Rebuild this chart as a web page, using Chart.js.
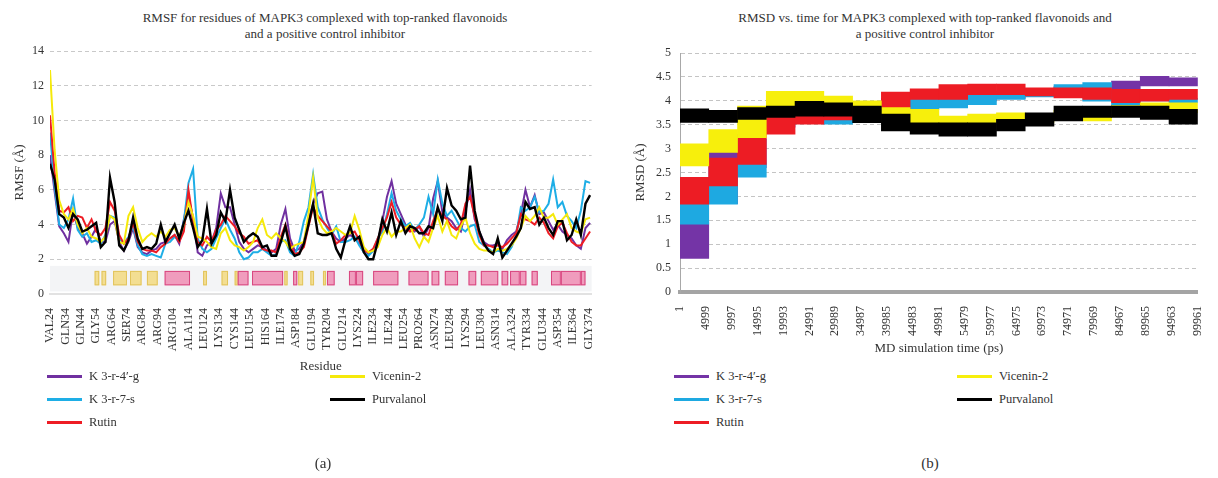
<!DOCTYPE html>
<html>
<head>
<meta charset="utf-8">
<script src="https://cdn.jsdelivr.net/npm/chart.js@4.4.0/dist/chart.umd.min.js"></script>
<style>
body { margin:0; background:#fff; width:1218px; height:478px; position:relative; overflow:hidden; font-family:"Liberation Serif", serif; color:#333; }
.wrap { position:absolute; top:0; width:609px; }
.ttl { position:absolute; font-size:13px; line-height:16px; text-align:center; white-space:nowrap; transform:translateX(-50%); }
.leg { position:absolute; font-size:12.5px; line-height:16px; white-space:nowrap; }
.leg i { position:absolute; left:0; top:7px; width:35px; height:3px; }
.leg b { font-weight:normal; position:absolute; top:0; }
.cap { position:absolute; top:455px; font-size:15px; transform:translateX(-50%); }
</style>
</head>
<body>
<div class="ttl" style="left:325px;top:10px">RMSF for residues of MAPK3 complexed with top-ranked flavonoids<br>and a positive control inhibitor</div>
<div class="ttl" style="left:925px;top:10px">RMSD vs. time for MAPK3 complexed with top-ranked flavonoids and<br>a positive control inhibitor</div>
<div class="wrap" style="left:0"><canvas id="rmsf" width="609" height="378"></canvas></div>
<div class="wrap" style="left:609px"><canvas id="rmsd" width="609" height="360"></canvas></div>
<div id="legends"></div>
<div class="cap" style="left:323px">(a)</div>
<div class="cap" style="left:930px">(b)</div>
<script>
// series names and colours (same order as in the source chart)
const names = ["K 3-r-4\u2032-g", "K 3-r-7-s", "Rutin", "Vicenin-2", "Purvalanol"];
const colors = ["#7030a0", "#1eaee6", "#ee1c24", "#f5e90a", "#000000"];

// ---- RMSF (a) ----
const residues = [24,27,30,33,36,39,42,45,48,51,54,57,60,63,66,69,72,75,78,81,84,87,90,93,96,99,102,105,108,111,114,117,120,123,126,129,132,135,138,141,144,147,150,153,156,159,162,165,168,171,174,177,180,183,186,189,192,195,198,201,204,207,210,213,216,219,222,225,228,231,234,237,240,243,246,249,252,255,258,261,264,267,270,273,276,279,282,285,288,291,294,297,300,303,306,309,312,315,318,321,324,327,330,333,336,339,342,345,348,351,354,357,360,363,366,369,372,375];

const rmsfK4g = [8.0,5.9,3.9,3.5,3.0,4.8,3.8,3.5,2.9,3.3,3.8,3.0,3.0,4.0,4.2,3.0,2.5,3.0,3.8,2.7,2.4,2.3,2.5,2.6,2.9,3.0,3.2,3.4,2.9,4.3,5.6,4.4,2.4,2.2,2.8,3.0,3.8,5.8,5.0,
  5.0,4.0,3.0,2.6,2.4,2.6,2.8,2.7,2.5,2.4,2.6,4.0,4.9,3.2,2.5,2.6,3.0,4.2,5.2,5.8,5.9,4.3,3.6,3.2,3.0,3.2,3.4,3.2,2.9,2.4,2.3,2.5,3.0,4.2,5.6,6.5,5.2,4.6,4.0,3.7,
  3.6,3.9,3.3,3.8,5.5,6.5,4.7,4.4,4.2,3.8,3.6,4.8,6.0,4.3,3.6,3.0,2.8,2.8,2.9,2.6,3.1,3.4,3.6,4.6,6.0,5.0,5.7,4.6,4.7,4.2,3.7,4.0,3.6,3.4,3.2,2.8,2.6,3.8,4.1];
const rmsfK7s = [9.3,6.2,4.0,3.8,4.3,5.5,3.7,3.3,3.5,3.0,3.1,2.9,3.4,4.5,4.4,3.2,2.9,3.3,3.9,2.8,2.3,2.2,2.3,2.2,2.1,2.9,3.0,3.3,3.1,4.2,6.4,7.2,3.2,2.6,2.4,2.6,3.2,3.8,4.3,
  3.7,3.2,2.4,2.0,2.1,2.4,2.4,2.6,2.4,2.2,2.3,3.0,3.1,2.4,2.2,3.0,4.2,5.0,6.9,5.0,4.3,3.8,3.4,3.9,3.0,3.0,3.1,3.3,2.8,2.4,2.2,2.5,3.2,3.6,4.6,5.8,4.8,4.3,3.9,4.1,
  3.7,4.0,4.4,5.6,4.6,6.6,5.2,4.5,4.8,4.3,3.8,3.6,3.9,4.0,3.0,2.8,2.6,2.4,2.5,2.4,2.3,2.7,3.4,5.0,4.8,5.0,5.6,4.7,4.8,5.2,6.6,5.0,5.3,4.5,4.2,3.8,4.8,6.5,6.4];
const rmsfRutin = [10.3,7.0,4.8,4.7,5.0,4.2,4.5,4.4,3.8,4.3,3.6,3.4,3.8,5.3,4.8,3.4,2.9,3.2,4.1,3.0,2.6,2.5,2.5,2.4,2.7,2.9,3.2,3.4,3.0,3.6,6.0,4.2,3.0,2.8,3.3,3.0,3.7,4.0,4.5,
  4.2,3.9,3.5,3.3,2.9,3.0,3.1,2.6,2.5,2.5,2.4,3.3,4.0,2.9,2.3,2.4,2.7,3.9,5.0,4.5,4.2,3.9,3.6,2.9,3.1,3.4,3.5,3.6,3.1,2.5,2.4,2.6,3.2,3.8,4.4,5.3,4.4,4.0,3.8,3.6,
  3.7,3.9,3.5,3.4,4.2,4.9,4.5,4.3,3.9,3.7,4.0,5.2,5.6,4.5,3.4,2.8,2.8,2.7,2.8,2.7,2.9,3.2,3.5,4.6,4.3,4.2,4.0,4.4,4.1,3.5,3.2,3.9,4.1,3.5,3.0,2.8,2.8,3.2,3.6];
const rmsfVicenin = [12.9,8.3,5.4,4.6,4.3,4.9,4.0,3.5,3.8,3.3,3.2,3.0,3.3,4.5,4.3,3.0,2.9,4.5,5.0,3.8,3.0,3.3,3.5,3.3,3.6,3.3,3.7,3.8,3.3,4.0,5.3,4.5,3.3,3.2,3.0,2.7,2.6,3.5,3.8,
  3.1,2.8,2.7,2.5,2.7,3.0,3.8,4.3,3.4,3.2,3.5,3.2,3.0,2.6,2.8,2.9,3.0,4.6,6.7,4.4,3.8,3.5,3.6,3.8,3.6,3.4,3.5,4.5,3.7,2.7,2.4,2.5,2.7,3.4,3.8,3.3,3.6,3.6,3.8,4.0,
  3.2,2.7,3.3,3.0,3.8,4.5,3.6,4.2,3.4,3.2,3.9,4.4,3.5,2.9,2.6,2.5,2.5,2.4,2.6,2.5,2.6,2.8,3.2,3.8,4.5,4.2,4.5,5.0,4.4,4.4,4.6,4.0,4.3,4.6,3.8,3.6,3.5,4.3,4.4];
const rmsfPurvalanol = [7.5,6.6,4.6,4.4,3.8,4.6,4.3,3.6,3.7,3.9,4.1,2.7,3.0,6.7,5.3,2.8,2.5,3.1,4.4,3.2,2.6,2.7,2.6,2.9,4.0,3.0,3.5,4.0,3.2,4.1,4.8,3.8,2.7,3.1,4.9,2.9,3.4,4.7,4.2,
  6.0,4.4,3.7,3.0,3.3,3.5,3.3,2.7,2.8,2.2,2.2,3.0,3.9,2.6,2.2,2.3,2.9,4.0,5.2,3.5,3.4,3.4,3.5,2.6,2.1,3.1,3.9,3.1,3.3,2.4,2.0,2.0,3.0,4.3,3.6,4.7,3.4,4.2,3.5,3.9,
  3.8,3.5,3.5,3.9,3.8,5.0,4.2,6.1,5.1,4.8,4.3,4.4,7.4,4.8,3.6,2.9,2.5,2.3,3.2,2.1,2.5,2.9,3.3,3.8,5.3,4.9,5.0,4.0,4.4,3.8,3.4,4.2,4.2,3.1,3.4,4.3,3.4,5.2,5.7];

const resTicks = [24,34,44,54,64,74,84,94,104,114,124,134,144,154,164,174,184,194,204,214,224,234,244,254,264,274,284,294,304,314,324,334,344,354,364,374];
const resTickLabels = ["VAL24","GLN34","GLN44","GLY54","ARG64","SER74","ARG84","ARG94","ARG104","ALA114","LEU124","LYS134","CYS144","LEU154","HIS164","ILE174","ASP184","GLU194","TYR204","GLU214","LYS224","ILE234","ILE244","LEU254","PRO264","ASN274","LEU284","LYS294","LEU304","ASN314","ALA324","TYR334","GLU344","ASP354","ILE364","GLY374"];

// secondary structure (residue ranges)
const strands = [[53,56],[57.5,60.5],[65,74],[76,83.5],[87,94],[123.5,126],[135.5,139.7],[144,146],[176.3,178.4],[185.3,188.5],[193.2,195.6],[201.4,203.3]];
const helices = [[98.5,115],[146,153],[155.3,175.5],[182,184.7],[204,209],[218.3,222.8],[222.8,227.5],[234,250.4],[257,270],[272,277],[280.6,289.2],[296,301],[304,315.3],[317.5,321.8],[323,329.3],[329.3,333.6],[337,341],[349.6,356],[356,369],[369,372]];

// ---- RMSD (b) ---- blocks of the run, low/high of each band
const blockMid = [2778,8333,13889,19444,25000,30556,36111,41667,47222,52778,58333,63889,69444,75000,80556,86111,91667,97222];
const rmsdK4gLo = [0.70,1.85,2.60,3.45,3.55,3.60,3.70,3.85,3.90,3.95,4.00,4.05,4.10,4.15,4.15,4.24,4.31,4.31];
const rmsdK4gHi = [1.45,2.95,3.20,3.70,3.75,3.75,3.90,4.05,4.10,4.15,4.20,4.20,4.25,4.30,4.30,4.41,4.51,4.48];
const rmsdK7sLo = [1.42,1.84,2.40,3.50,3.55,3.51,3.80,3.85,3.82,3.85,3.92,4.03,4.08,4.20,3.99,3.89,4.00,3.96];
const rmsdK7sHi = [1.86,2.28,2.70,3.72,3.75,3.70,3.95,4.00,4.05,4.07,4.17,4.18,4.20,4.34,4.38,4.05,4.20,4.05];
const rmsdRutinLo = [1.84,2.22,2.67,3.30,3.51,3.60,3.75,3.82,4.03,4.03,4.13,4.13,4.10,4.06,4.03,3.96,3.99,4.03];
const rmsdRutinHi = [2.40,2.80,3.30,3.70,3.76,3.82,3.92,4.18,4.25,4.34,4.35,4.35,4.27,4.27,4.27,4.24,4.24,4.24];
const rmsdVicLo = [2.64,2.92,3.23,3.75,3.85,3.85,3.85,3.72,3.51,3.54,3.54,3.61,3.55,3.65,3.58,3.78,3.85,3.75];
const rmsdVicHi = [3.10,3.40,3.89,4.20,4.20,4.10,4.00,3.86,3.82,3.68,3.72,3.75,3.72,3.80,3.72,3.90,3.96,3.96];
const rmsdPurLo = [3.55,3.55,3.61,3.65,3.68,3.68,3.54,3.37,3.30,3.26,3.26,3.37,3.47,3.58,3.65,3.65,3.61,3.51];
const rmsdPurHi = [3.83,3.80,3.86,3.89,3.99,3.96,3.89,3.72,3.54,3.54,3.54,3.61,3.75,3.89,3.89,3.89,3.89,3.82];
const timeTicks = [1,4999,9997,14995,19993,24991,29989,34987,39985,44983,49981,54979,59977,64975,69973,74971,79969,84967,89965,94963,99961];

const FONT = "'Liberation Serif', serif";
const INK = "#333";

const ssPlugin = {
  id: 'ss',
  beforeDatasetsDraw(chart) {
    const {ctx, chartArea} = chart;
    const x = chart.scales.x, y = chart.scales.y;
    ctx.save();
    const bt = y.getPixelForValue(1.62), bb = y.getPixelForValue(0.15);
    ctx.fillStyle = '#f3f4f6';
    ctx.fillRect(chartArea.left, bt, chartArea.width, bb - bt);
    const top = y.getPixelForValue(1.33), bot = y.getPixelForValue(0.5);
    function boxes(list, fill, stroke) {
      list.forEach(function (r) {
        const x1 = x.getPixelForValue(r[0]), x2 = x.getPixelForValue(r[1]);
        ctx.fillStyle = fill;
        ctx.fillRect(x1, top, x2 - x1, bot - top);
        ctx.strokeStyle = stroke;
        ctx.lineWidth = 1;
        ctx.strokeRect(x1 + 0.5, top + 0.5, x2 - x1 - 1, bot - top - 1);
      });
    }
    boxes(strands, '#f3de92', '#e2c45c');
    boxes(helices, '#f09cbd', '#d8467f');
    ctx.restore();
  }
};

const rmsfSeries = [rmsfK4g, rmsfK7s, rmsfRutin, rmsfVicenin, rmsfPurvalanol];
new Chart(document.getElementById('rmsf'), {
  type: 'line',
  data: {
    datasets: rmsfSeries.map(function (vals, k) {
      return {
        label: names[k],
        data: vals.map(function (v, i) { return {x: residues[i], y: v}; }),
        borderColor: colors[k],
        borderWidth: k === 4 ? 2.4 : 2,
        pointRadius: 0,
        tension: 0,
        order: 5 - k
      };
    })
  },
  options: {
    responsive: false,
    animation: false,
    layout: {padding: {left: 8, right: 11, top: 51, bottom: 0}},
    plugins: {legend: {display: false}, tooltip: {enabled: false}},
    scales: {
      x: {
        type: 'linear', min: 24, max: 376, offset: false,
        grid: {display: false},
        border: {display: true, color: '#e2e2e2', width: 2},
        afterBuildTicks: function (s) { s.ticks = resTicks.map(function (v) { return {value: v}; }); },
        afterFit: function (s) { s.height = 84; },
        ticks: {
          autoSkip: false, minRotation: 90, maxRotation: 90, padding: 6,
          color: INK, font: {family: FONT, size: 12},
          callback: function (v) { return resTickLabels[resTicks.indexOf(v)]; }
        },
        title: {display: true, text: 'Residue', color: INK, font: {family: FONT, size: 13}}
      },
      y: {
        min: 0, max: 14,
        grid: {color: '#c9c9c9', drawTicks: false},
        border: {display: false, dash: [4, 3]},
        afterFit: function (s) { s.width = 42; },
        ticks: {stepSize: 2, padding: 6, color: INK, font: {family: FONT, size: 12}},
        title: {display: true, text: 'RMSF (\u00c5)', color: INK, font: {family: FONT, size: 13}}
      }
    }
  },
  plugins: [ssPlugin]
});

const lows = [rmsdK4gLo, rmsdK7sLo, rmsdRutinLo, rmsdVicLo, rmsdPurLo];
const highs = [rmsdK4gHi, rmsdK7sHi, rmsdRutinHi, rmsdVicHi, rmsdPurHi];
const rmsdColors = ["#7434a6", "#1ea9e1", "#ed1c24", "#f7ef0c", "#000000"];
new Chart(document.getElementById('rmsd'), {
  type: 'bar',
  data: {
    datasets: lows.map(function (lo, k) {
      return {
        label: names[k],
        data: lo.map(function (v, i) { return {x: blockMid[i], y: [v, highs[k][i]]}; }),
        backgroundColor: rmsdColors[k],
        borderWidth: 0,
        grouped: false,
        barPercentage: 1,
        categoryPercentage: 1,
        xAxisID: 'xb',
        order: 5 - k
      };
    })
  },
  options: {
    responsive: false,
    animation: false,
    layout: {padding: {left: 20, right: 0, top: 53, bottom: 0}},
    plugins: {legend: {display: false}, tooltip: {enabled: false}},
    scales: {
      xb: {type: 'linear', min: 1, max: 100000, display: false, offset: false},
      x: {
        type: 'linear', min: 1, max: 100000, offset: false,
        grid: {display: false},
        border: {display: true, color: '#a4a4a4', width: 4},
        afterBuildTicks: function (s) { s.ticks = timeTicks.map(function (v) { return {value: v}; }); },
        afterFit: function (s) { s.height = 68; },
        ticks: {
          autoSkip: false, minRotation: 90, maxRotation: 90, padding: 6,
          color: INK, font: {family: FONT, size: 12},
          callback: function (v) { return String(v); }
        },
        title: {display: true, text: 'MD simulation time (ps)', color: INK, font: {family: FONT, size: 13}}
      },
      y: {
        min: 0, max: 5,
        grid: {color: '#c4c4c4', drawTicks: false},
        border: {display: true, color: '#a8a8a8', width: 1, dash: [4, 3]},
        afterFit: function (s) { s.width = 51; },
        ticks: {stepSize: 0.5, padding: 9, color: INK, font: {family: FONT, size: 12},
          callback: function (v) { return String(v); }},
        title: {display: true, text: 'RMSD (\u00c5)', color: INK, font: {family: FONT, size: 13}}
      }
    }
  }
});

// legends (two columns, as in the source)
const legPos = [[0, 0], [0, 1], [0, 2], [1, 0], [1, 1]];
let html = '';
[[47, colors], [674, rmsdColors]].forEach(function (p) {
  const x0 = p[0];
  for (let k = 0; k < 5; k++) {
    const lx = x0 + legPos[k][0] * 283;
    const ty = 368 + legPos[k][1] * 23;
    html += '<div class="leg" style="left:' + lx + 'px;top:' + ty + 'px"><i style="background:' + p[1][k] + '"></i><b style="left:42px">' + names[k] + '</b></div>';
  }
});
document.getElementById('legends').innerHTML = html;
</script>
</body>
</html>
